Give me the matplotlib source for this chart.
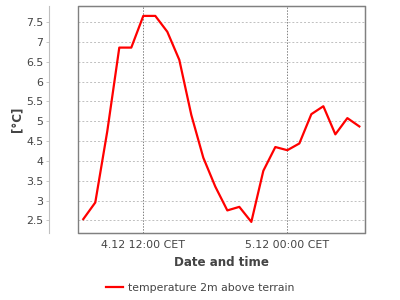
import matplotlib
matplotlib.use("Agg")
import matplotlib.pyplot as plt
from matplotlib.patches import Rectangle
from matplotlib.ticker import FormatStrFormatter, MultipleLocator

# hours counted from 4.12 00:00 CET
hours = list(range(7, 31))
temps = [2.53, 2.95, 4.75, 6.86, 6.86, 7.66, 7.66, 7.26, 6.55, 5.16, 4.08, 3.35,
         2.75, 2.84, 2.46, 3.75, 4.35, 4.27, 4.44, 5.18, 5.38, 4.67, 5.08, 4.87]
xtick_pos = [12, 24]
xtick_labels = ["4.12 12:00 CET", "5.12 00:00 CET"]
series_name = "temperature 2m above terrain"

fig = plt.figure(figsize=(4, 3), dpi=100)
ax = fig.add_axes([78 / 400, 1 - 233 / 300, 287 / 400, 227 / 300])

ax.plot(hours, temps, color="#ff0000", lw=1.6, label=series_name, zorder=3)

ax.set_xlim(6.56, 30.47)
ax.set_ylim(2.18, 7.91)
ax.yaxis.set_major_locator(MultipleLocator(0.5))
ax.yaxis.set_major_formatter(FormatStrFormatter("%g"))
ax.set_xticks(xtick_pos)
ax.set_xticklabels(xtick_labels)

ax.grid(axis="y", color="#c0c0c0", ls=(0, (2, 2)), lw=0.7)
ax.grid(axis="x", color="#808080", ls=(0, (1.5, 1.5)), lw=0.7)

# detached y axis, plot box drawn separately
for s in ["top", "right", "bottom"]:
    ax.spines[s].set_color("#808080")
ax.spines["left"].set_position(("outward", 21))
ax.spines["left"].set_color("#c0c0c0")
ax.add_patch(Rectangle((0, 0), 1, 1, transform=ax.transAxes, fill=False,
                       ec="#808080", lw=1, clip_on=False, zorder=4))

ax.tick_params(axis="both", labelsize=7.9, colors="#444444", length=2,
               width=0.6, pad=2)
ax.tick_params(axis="y", color="#c0c0c0")
ax.tick_params(axis="x", length=0, pad=5)

ax.set_ylabel("[°C]", fontsize=8.6, fontweight="bold", color="#444444", labelpad=2)
ax.set_xlabel("Date and time", fontsize=8.6, fontweight="bold", color="#444444", labelpad=4)

fig.legend(loc="center", bbox_to_anchor=(0.5, 1 - 288 / 300), frameon=False,
           fontsize=7.8, handlelength=1.6, handletextpad=0.4, labelcolor="#444444")

fig.savefig("out.png", dpi=100)
